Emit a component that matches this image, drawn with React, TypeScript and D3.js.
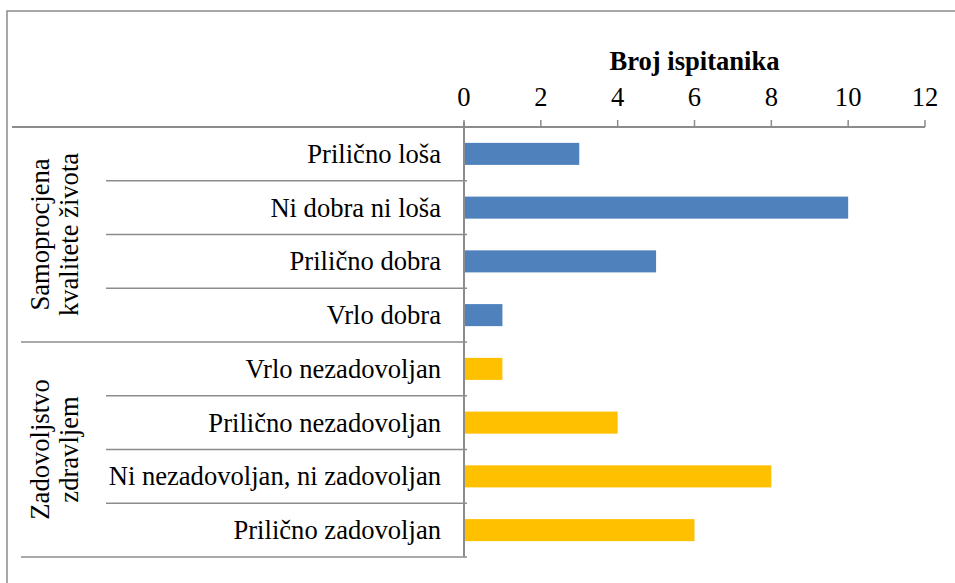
import React from "react";
import * as d3 from "d3";

const groups = ["Samoprocjena|kvalitete života", "Zadovoljstvo|zdravljem"];
const categories = [
  "Prilično loša",
  "Ni dobra ni loša",
  "Prilično dobra",
  "Vrlo dobra",
  "Vrlo nezadovoljan",
  "Prilično nezadovoljan",
  "Ni nezadovoljan, ni zadovoljan",
  "Prilično zadovoljan",
];
const categoryGroup = [0, 0, 0, 0, 1, 1, 1, 1];
const values = [3, 10, 5, 1, 1, 4, 8, 6];
const groupColors = ["#4F81BD", "#FFC000"];
const xTicks = [0, 2, 4, 6, 8, 10, 12];
const axisTitle = "Broj ispitanika";

export default function App() {
  const W = 955, H = 583;
  const x0 = 464, x1 = 925, yTop = 127, yBot = 557;
  const x = d3.scaleLinear().domain([0, 12]).range([x0, x1]);
  const y = d3.scaleBand().domain(categories.map((_, i) => String(i))).range([yTop, yBot]).paddingInner(0.59).paddingOuter(0.295);
  const yb = d3.scaleBand().domain(categories.map((_, i) => String(i))).range([yTop, yBot]);
  const gray = "#8c8c8c";
  const font = '"Liberation Serif", Tinos, "DejaVu Serif", serif';
  const fs = 26.6;
  return (
    <svg width={W} height={H} style={{ position: "absolute", left: 0, top: 0, fontFamily: font }}>
      <rect x={0} y={0} width={W} height={H} fill="#fff" />
      <path d={`M7,${H + 2} V11 H${W + 2}`} fill="none" stroke={gray} strokeWidth={1.5} />
      <text x={(x0 + x1) / 2} y={70} textAnchor="middle" fontSize={fs} fontWeight="bold" style={{ fontFamily: font }}>{axisTitle}</text>
      {xTicks.map((t) => (
        <g key={t}>
          <text x={x(t)} y={106} textAnchor="middle" fontSize={fs} style={{ fontFamily: font }}>{t}</text>
          <line x1={x(t)} x2={x(t)} y1={120} y2={yTop} stroke={gray} strokeWidth={1.5} />
        </g>
      ))}
      <line x1={12} x2={x1} y1={yTop} y2={yTop} stroke={gray} strokeWidth={2} />
      <line x1={x0} x2={x0} y1={122} y2={yBot} stroke={gray} strokeWidth={2} />
      {categories.map((c, i) => {
        const b = yb(String(i))!;
        const end = b + yb.bandwidth();
        const isGroupEnd = i === categories.length - 1 || categoryGroup[i + 1] !== categoryGroup[i];
        return (
          <g key={c}>
            <line x1={isGroupEnd ? 21 : 106} x2={x0 + 3} y1={end} y2={end} stroke={gray} strokeWidth={1.5} />
            <text x={441} y={b + yb.bandwidth() / 2 + 9} textAnchor="end" fontSize={fs} style={{ fontFamily: font }}>{c}</text>
            <rect x={x(0) + 1} y={y(String(i))!} width={x(values[i]) - x(0) - 1} height={y.bandwidth()} fill={groupColors[categoryGroup[i]]} />
          </g>
        );
      })}
      {groups.map((g, gi) => {
        const idx = categories.map((_, i) => i).filter((i) => categoryGroup[i] === gi);
        const top = yb(String(idx[0]))!;
        const bot = yb(String(idx[idx.length - 1]))! + yb.bandwidth();
        const cy = (top + bot) / 2;
        const lines = g.split("|");
        return (
          <g key={g} transform={`translate(0,${cy})`}>
            {lines.map((l, li) => (
              <text key={li} transform={`translate(${49 + li * 29},0) rotate(-90)`} textAnchor="middle" fontSize={fs} style={{ fontFamily: font }}>{l}</text>
            ))}
          </g>
        );
      })}
    </svg>
  );
}
